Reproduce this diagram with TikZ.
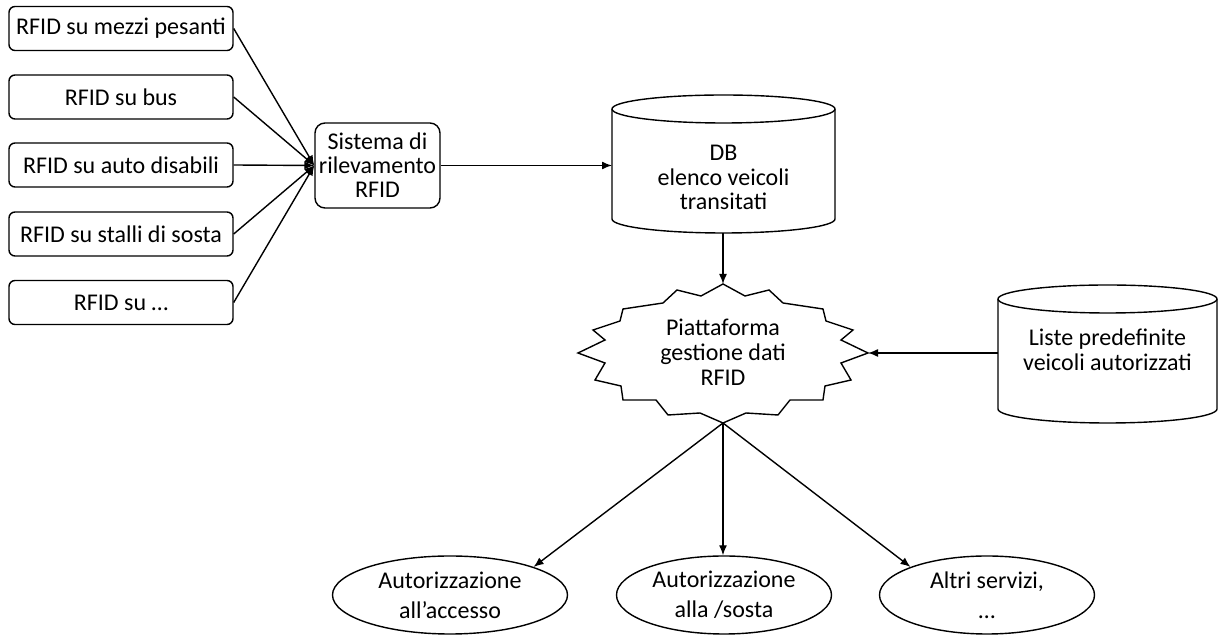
\documentclass[tikz,border=0pt]{standalone}
\usepackage{fontspec}
\setmainfont{Carlito}
\usepackage{tikz}
\usetikzlibrary{shapes.geometric, arrows.meta, positioning}

\begin{document}
\begin{tikzpicture}[x=0.5pt, y=-0.5pt, >={Latex[length=5pt,width=4pt]}, line width=0.7pt,
    font=\fontsize{12}{12}\selectfont,
    sorgente/.style={draw, rounded corners=3pt, fill=white, minimum width=112pt, minimum height=22pt, inner sep=1pt},
    sistema/.style={draw, rounded corners=5pt, fill=white, minimum width=62.5pt, minimum height=42.5pt, align=center, inner sep=1pt},
    testo/.style={align=center, inner sep=0pt, font=\fontsize{12}{12.3}\selectfont},
    servizio/.style={draw, ellipse, fill=white, minimum height=39pt, inner sep=0pt, align=center, font=\fontsize{12}{15}\selectfont}]

    \useasboundingbox (0,0) rectangle (1223,635);

    % =================================================================
    % SORGENTI RFID A SINISTRA
    % =================================================================
    \node[sorgente] (pesanti)  at (121,28.5) {RFID su mezzi pesanti};
    \node[sorgente] (bus)      at (121,97)   {RFID su bus};
    \node[sorgente] (disabili) at (121,165)  {RFID su auto disabili};
    \node[sorgente] (stalli)   at (121,234)  {RFID su stalli di sosta};
    \node[sorgente] (altro)    at (121,302.5) {RFID su \dots};

    % Sistema di rilevamento
    \node[sistema] (rilev) at (377.5,165.5) {Sistema di\\rilevamento\\RFID};

    \foreach \s in {pesanti, bus, disabili, stalli, altro} {
        \draw[->] (\s.east) -- (rilev.west);
    }

    % =================================================================
    % ARCHIVI (cilindri)
    % =================================================================
    % DB veicoli transitati
    \draw[fill=white] (612,109) -- (612,219) arc[start angle=180, end angle=0, x radius=111.5, y radius=14]
        -- (835,109) arc[start angle=0, end angle=-180, x radius=111.5, y radius=14] -- cycle;
    \draw (612,109) arc[start angle=180, end angle=0, x radius=111.5, y radius=14];
    \node[testo] (db) at (723.5,177.5) {DB\\elenco veicoli\\transitati};
    \coordinate (dbovest) at (612,165.5);
    \coordinate (dbsud) at (723,233);

    % Liste predefinite
    \draw[fill=white] (998,299) -- (998,409) arc[start angle=180, end angle=0, x radius=109.5, y radius=14]
        -- (1217,299) arc[start angle=0, end angle=-180, x radius=109.5, y radius=14] -- cycle;
    \draw (998,299) arc[start angle=180, end angle=0, x radius=109.5, y radius=14];
    \node[testo] (liste) at (1107.5,350) {Liste predefinite\\veicoli autorizzati};
    \coordinate (listeovest) at (998,353);

    \draw[->] (rilev.east) -- (dbovest);

    % =================================================================
    % PIATTAFORMA (stella)
    % =================================================================
    \begin{scope}[shift={(723,353)}]
        \draw[fill=white] (0,-69) -- (22,-57) -- (46,-63) -- (60,-50) -- (100,-44) -- (103,-32)
            -- (130,-23) -- (118,-13) -- (145,0) -- (118,10) -- (128,27) -- (102,33) -- (100,47)
            -- (67,47) -- (55,62) -- (23,60) -- (0,70) -- (-23,60) -- (-55,62) -- (-67,47)
            -- (-100,47) -- (-102,33) -- (-128,27) -- (-118,10) -- (-145,0) -- (-118,-13)
            -- (-130,-23) -- (-103,-32) -- (-100,-44) -- (-60,-50) -- (-46,-63) -- (-22,-57) -- cycle;
        \coordinate (pn) at (0,-69);
        \coordinate (ps) at (0,70);
        \coordinate (pe) at (145,0);
    \end{scope}
    \node[testo, font=\fontsize{12}{12.5}\selectfont] (piatt) at (723,352) {Piattaforma\\gestione dati\\RFID};

    \draw[->] (dbsud) -- (pn);
    \draw[->] (listeovest) -- (pe);

    % =================================================================
    % SERVIZI IN BASSO
    % =================================================================
    \node[servizio, minimum width=117.5pt] (accesso) at (450,595) {Autorizzazione\\all'accesso};
    \node[servizio, minimum width=107.5pt] (sosta)   at (724,595) {Autorizzazione\\alla /sosta};
    \node[servizio, minimum width=107.5pt] (altri)   at (987,595) {Altri servizi,\\\dots};

    \draw[->] (ps) -- (accesso.north east);
    \draw[->] (ps) -- (ps |- sosta.north);
    \draw[->] (ps) -- (altri.north west);

\end{tikzpicture}
\end{document}
